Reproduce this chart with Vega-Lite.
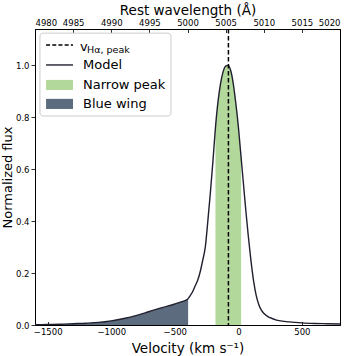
{
  "$schema": "https://vega.github.io/schema/vega-lite/v6.json",
  "width": 305,
  "height": 296,
  "autosize": "none",
  "padding": {"left": 35, "top": 29, "right": 10, "bottom": 31},
  "background": "white",
  "config": {
    "view": {"stroke": "black", "strokeWidth": 1},
    "axis": {
      "grid": false,
      "domainColor": "black",
      "domainWidth": 1,
      "tickColor": "black",
      "tickWidth": 0.8,
      "labelFont": "DejaVu Sans",
      "labelFontSize": 8.5,
      "labelColor": "black",
      "titleFont": "DejaVu Sans",
      "titleFontSize": 13.5,
      "titleFontWeight": "normal",
      "titleColor": "black"
    },
    "text": {"font": "DejaVu Sans"}
  },
  "datasets": {
    "model": [
      {"v": -1600, "flux": 0.001}, {"v": -1500, "flux": 0.002}, {"v": -1400, "flux": 0.003},
      {"v": -1300, "flux": 0.005}, {"v": -1200, "flux": 0.007}, {"v": -1100, "flux": 0.010},
      {"v": -1000, "flux": 0.016}, {"v": -900, "flux": 0.025}, {"v": -800, "flux": 0.037},
      {"v": -700, "flux": 0.052}, {"v": -600, "flux": 0.067}, {"v": -500, "flux": 0.081},
      {"v": -450, "flux": 0.089}, {"v": -400, "flux": 0.099}, {"v": -390, "flux": 0.105},
      {"v": -380, "flux": 0.112}, {"v": -360, "flux": 0.128}, {"v": -340, "flux": 0.150},
      {"v": -320, "flux": 0.172}, {"v": -300, "flux": 0.205}, {"v": -280, "flux": 0.250},
      {"v": -260, "flux": 0.300}, {"v": -240, "flux": 0.400}, {"v": -220, "flux": 0.510},
      {"v": -200, "flux": 0.630}, {"v": -180, "flux": 0.760}, {"v": -160, "flux": 0.860},
      {"v": -140, "flux": 0.930}, {"v": -120, "flux": 0.975}, {"v": -100, "flux": 0.997},
      {"v": -80, "flux": 1.000}, {"v": -60, "flux": 0.980}, {"v": -40, "flux": 0.930},
      {"v": -20, "flux": 0.855}, {"v": 0, "flux": 0.765}, {"v": 20, "flux": 0.655},
      {"v": 40, "flux": 0.545}, {"v": 60, "flux": 0.435}, {"v": 80, "flux": 0.335},
      {"v": 100, "flux": 0.245}, {"v": 120, "flux": 0.170}, {"v": 140, "flux": 0.115},
      {"v": 160, "flux": 0.080}, {"v": 180, "flux": 0.058}, {"v": 200, "flux": 0.045},
      {"v": 250, "flux": 0.028}, {"v": 300, "flux": 0.019}, {"v": 400, "flux": 0.012},
      {"v": 500, "flux": 0.008}, {"v": 600, "flux": 0.006}, {"v": 700, "flux": 0.005},
      {"v": 800, "flux": 0.004}
    ],
    "wing": [
      {"v": -1600, "flux": 0.001}, {"v": -1500, "flux": 0.002}, {"v": -1400, "flux": 0.003},
      {"v": -1300, "flux": 0.005}, {"v": -1200, "flux": 0.007}, {"v": -1100, "flux": 0.010},
      {"v": -1000, "flux": 0.016}, {"v": -900, "flux": 0.025}, {"v": -800, "flux": 0.037},
      {"v": -700, "flux": 0.052}, {"v": -600, "flux": 0.067}, {"v": -500, "flux": 0.081},
      {"v": -450, "flux": 0.089}, {"v": -400, "flux": 0.099}, {"v": -395, "flux": 0.102}
    ],
    "narrow": [
      {"v": -180, "flux": 0.760}, {"v": -160, "flux": 0.860}, {"v": -140, "flux": 0.930},
      {"v": -120, "flux": 0.975}, {"v": -100, "flux": 0.997}, {"v": -80, "flux": 1.000},
      {"v": -60, "flux": 0.980}, {"v": -40, "flux": 0.930}, {"v": -20, "flux": 0.855},
      {"v": 0, "flux": 0.765}, {"v": 20, "flux": 0.655}, {"v": 22, "flux": 0.644}
    ],
    "peak": [{"v": -78}],
    "top": [{"lam": 4980}, {"lam": 5020}],
    "one": [{}]
  },
  "layer": [
    {
      "layer": [
        {
          "data": {"name": "wing"},
          "mark": {"type": "area", "color": "#5d6b7e", "interpolate": "monotone"},
          "encoding": {
            "x": {"field": "v", "type": "quantitative",
              "scale": {"domain": [-1600, 800], "nice": false, "zero": false},
              "axis": {"orient": "bottom", "values": [-1500, -1000, -500, 0, 500], "format": "d",
                "title": "Velocity (km s⁻¹)", "tickSize": -3.5, "labelPadding": 6, "titlePadding": 5}},
            "y": {"field": "flux", "type": "quantitative",
              "scale": {"domain": [0, 1.14], "nice": false, "zero": true},
              "axis": {"values": [0, 0.2, 0.4, 0.6, 0.8, 1.0], "format": ".1f",
                "title": "Normalized flux", "titleFontSize": 13, "tickSize": 4, "labelPadding": 2, "titlePadding": 1}}
          }
        },
        {
          "data": {"name": "narrow"},
          "mark": {"type": "area", "color": "#b3d89b", "interpolate": "monotone"},
          "encoding": {
            "x": {"field": "v", "type": "quantitative"},
            "y": {"field": "flux", "type": "quantitative"}
          }
        },
        {
          "data": {"name": "model"},
          "mark": {"type": "line", "color": "#20202f", "strokeWidth": 1.4, "interpolate": "monotone"},
          "encoding": {
            "x": {"field": "v", "type": "quantitative"},
            "y": {"field": "flux", "type": "quantitative"}
          }
        },
        {
          "data": {"name": "peak"},
          "mark": {"type": "rule", "color": "black", "strokeWidth": 1.5, "strokeDash": [4.5, 2.5]},
          "encoding": {"x": {"field": "v", "type": "quantitative"}}
        },
        {
          "data": {"name": "one"},
          "mark": {"type": "rect", "fill": "white", "stroke": "#cccccc", "strokeWidth": 1, "cornerRadius": 3},
          "encoding": {
            "x": {"datum": -1561}, "x2": {"datum": -530},
            "y": {"datum": 1.124}, "y2": {"datum": 0.805}
          }
        },
        {
          "data": {"name": "one"},
          "mark": {"type": "rule", "color": "black", "strokeWidth": 1.5, "strokeDash": [4, 2.2]},
          "encoding": {"x": {"datum": -1513}, "x2": {"datum": -1301}, "y": {"datum": 1.0786}}
        },
        {
          "data": {"name": "one"},
          "mark": {"type": "rule", "color": "#20202f", "strokeWidth": 1.4},
          "encoding": {"x": {"datum": -1513}, "x2": {"datum": -1301}, "y": {"datum": 1.0015}}
        },
        {
          "data": {"name": "one"},
          "mark": {"type": "rect", "color": "#b3d89b"},
          "encoding": {"x": {"datum": -1513}, "x2": {"datum": -1301}, "y": {"datum": 0.944}, "y2": {"datum": 0.905}}
        },
        {
          "data": {"name": "one"},
          "mark": {"type": "rect", "color": "#5d6b7e"},
          "encoding": {"x": {"datum": -1513}, "x2": {"datum": -1301}, "y": {"datum": 0.871}, "y2": {"datum": 0.832}}
        },
        {
          "data": {"name": "one"},
          "mark": {"type": "text", "text": "v", "fontSize": 13, "align": "left", "baseline": "alphabetic", "color": "black"},
          "encoding": {"x": {"datum": -1246}, "y": {"datum": 1.057}}
        },
        {
          "data": {"name": "one"},
          "mark": {"type": "text", "text": "Hα, peak", "fontSize": 9.5, "align": "left", "baseline": "alphabetic", "color": "black"},
          "encoding": {"x": {"datum": -1190}, "y": {"datum": 1.048}}
        },
        {
          "data": {"name": "one"},
          "mark": {"type": "text", "text": "Model", "fontSize": 13, "align": "left", "baseline": "middle", "color": "black"},
          "encoding": {"x": {"datum": -1222}, "y": {"datum": 1.0015}}
        },
        {
          "data": {"name": "one"},
          "mark": {"type": "text", "text": "Narrow peak", "fontSize": 13, "align": "left", "baseline": "middle", "color": "black"},
          "encoding": {"x": {"datum": -1222}, "y": {"datum": 0.9245}}
        },
        {
          "data": {"name": "one"},
          "mark": {"type": "text", "text": "Blue wing", "fontSize": 13, "align": "left", "baseline": "middle", "color": "black"},
          "encoding": {"x": {"datum": -1222}, "y": {"datum": 0.851}}
        }
      ]
    },
    {
      "data": {"name": "top"},
      "mark": {"type": "point", "opacity": 0},
      "encoding": {
        "x": {"field": "lam", "type": "quantitative",
          "scale": {"domain": [4980, 5020], "nice": false, "zero": false},
          "axis": {"orient": "top", "values": [4980, 4985, 4990, 4995, 5000, 5005, 5010, 5015, 5020],
            "format": "d", "title": "Rest wavelength (Å)", "tickSize": -3.5, "labelPadding": 5, "titlePadding": 1}}
      }
    }
  ],
  "resolve": {"scale": {"x": "independent"}, "axis": {"x": "independent"}}
}
